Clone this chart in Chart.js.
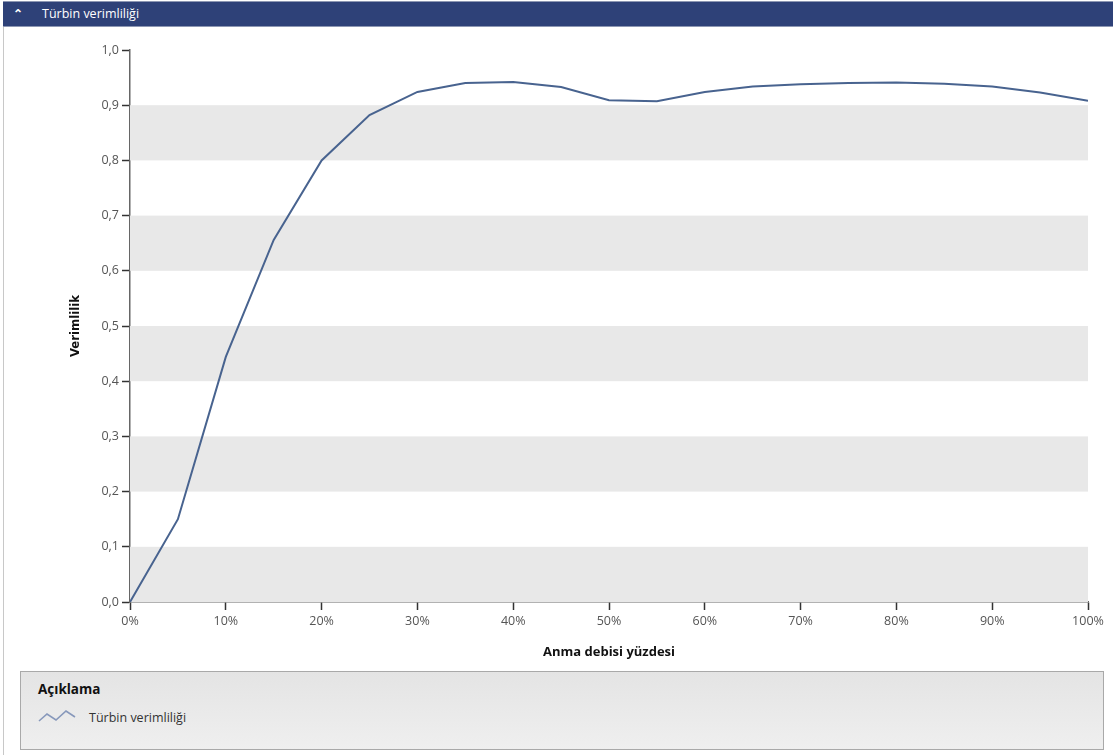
<!DOCTYPE html>
<html>
<head>
<meta charset="utf-8">
<script src="https://cdn.jsdelivr.net/npm/chart.js@4.4.1/dist/chart.umd.min.js"></script>
<style>
  html, body { margin:0; padding:0; background:#fff; }
  body { width:1113px; height:755px; position:relative; overflow:hidden; font-family:"Open Sans","Noto Sans",sans-serif; }
  #panel { position:absolute; left:3px; top:1px; width:1110px; height:754px; border-left:1px solid #c8c8c8; }
  #header { position:absolute; left:3px; top:1px; width:1110px; height:26px; background:#2e4178; border-top:1px solid #8d97b3; border-bottom:1px solid #8d97b3; box-sizing:border-box; color:#fff; font-size:12.5px; line-height:24px; }
  #header .chev { position:absolute; left:10px; top:0px; font-size:12px; font-weight:bold; }
  #header .title { position:absolute; left:39px; top:0; }
  #wrap { position:absolute; left:0; top:28px; width:1113px; height:640px; }
  #legend { position:absolute; left:20px; top:671px; width:1084px; height:79px; box-sizing:border-box; border:1px solid #a9a9a9; background:linear-gradient(#e4e4e4,#efefef); }
  #legend .lt { position:absolute; left:17px; top:8px; font-size:13.5px; font-weight:bold; color:#111; }
  #legend .icon { position:absolute; left:17px; top:36px; }
  #legend .lab { position:absolute; left:68px; top:37px; font-size:12.5px; color:#333; }
</style>
</head>
<body>
<div id="panel"></div>
<div id="header"><span class="chev">&#x2303;</span><span class="title">Türbin verimliliği</span></div>
<div id="wrap"><canvas id="c"></canvas></div>
<div id="legend">
  <div class="lt">Açıklama</div>
  <svg class="icon" width="44" height="18" viewBox="0 0 44 18"><polyline points="1,13 9,6 18,12 28,3 37,9" fill="none" stroke="#8798bb" stroke-width="1.6"/></svg>
  <div class="lab">Türbin verimliliği</div>
</div>
<script>
const flowPercent = [0,5,10,15,20,25,30,35,40,45,50,55,60,65,70,75,80,85,90,95,100];
const efficiency  = [0,0.15,0.444,0.656,0.80,0.882,0.924,0.940,0.942,0.933,0.909,0.907,0.924,0.934,0.938,0.940,0.941,0.939,0.934,0.923,0.908];
const seriesName = 'Türbin verimliliği';
const xTitle = 'Anma debisi yüzdesi';
const yTitle = 'Verimlilik';
const xTicks = [0,10,20,30,40,50,60,70,80,90,100];
const yTicks = [0,0.1,0.2,0.3,0.4,0.5,0.6,0.7,0.8,0.9,1.0];

const bandPlugin = {
  id:'bands',
  beforeDatasetsDraw(chart){
    const {ctx, chartArea, scales:{y}} = chart;
    ctx.save();
    ctx.fillStyle = '#e8e8e8';
    for (let i = 0; i < yTicks.length - 1; i += 2) {
      const top = y.getPixelForValue(yTicks[i+1]);
      const bot = y.getPixelForValue(yTicks[i]);
      ctx.fillRect(chartArea.left, top, chartArea.right - chartArea.left, bot - top);
    }
    ctx.restore();
  }
};

const tickFont = {family:'"Open Sans","Noto Sans",sans-serif', size:12.5};

new Chart(document.getElementById('c'), {
  type:'line',
  data:{
    datasets:[{
      label:seriesName,
      data: flowPercent.map((x,i)=>({x, y:efficiency[i]})),
      borderColor:'#48638f',
      borderWidth:2,
      pointRadius:0,
      tension:0,
      fill:false
    }]
  },
  plugins:[bandPlugin],
  options:{
    responsive:true,
    maintainAspectRatio:false,
    animation:false,
    layout:{padding:{left:0, right:25, top:22, bottom:0}},
    plugins:{legend:{display:false}, tooltip:{enabled:false}},
    scales:{
      x:{
        type:'linear', min:0, max:100,
        afterBuildTicks(s){ s.ticks = xTicks.map(v=>({value:v})); },
        afterFit(s){ s.height = 66; },
        ticks:{ callback:v=>v+'%', color:'#555', font:tickFont, padding:4, maxRotation:0 },
        grid:{ drawOnChartArea:false, drawTicks:true, tickLength:8, tickWidth:1.5, color:'#333' },
        border:{ display:true, color:'#666', width:1.5 },
        title:{ display:true, text:xTitle, color:'#111', font:{family:'"Open Sans","Noto Sans",sans-serif', size:13, weight:'bold'}, padding:{top:0, bottom:8} }
      },
      y:{
        min:0, max:1,
        afterBuildTicks(s){ s.ticks = yTicks.map(v=>({value:v})); },
        afterFit(s){ s.width = 130; },
        ticks:{ callback:v=>v.toFixed(1).replace('.',','), color:'#555', font:tickFont, padding:3 },
        grid:{ drawOnChartArea:false, drawTicks:true, tickLength:8, tickWidth:1.5, color:'#333' },
        border:{ display:true, color:'#666', width:1.5 },
        title:{ display:true, text:yTitle, color:'#111', font:{family:'"Liberation Sans Narrow","DejaVu Sans Condensed",sans-serif', size:13, weight:'bold'}, padding:{top:68, bottom:0} }
      }
    }
  }
});
</script>
</body>
</html>
